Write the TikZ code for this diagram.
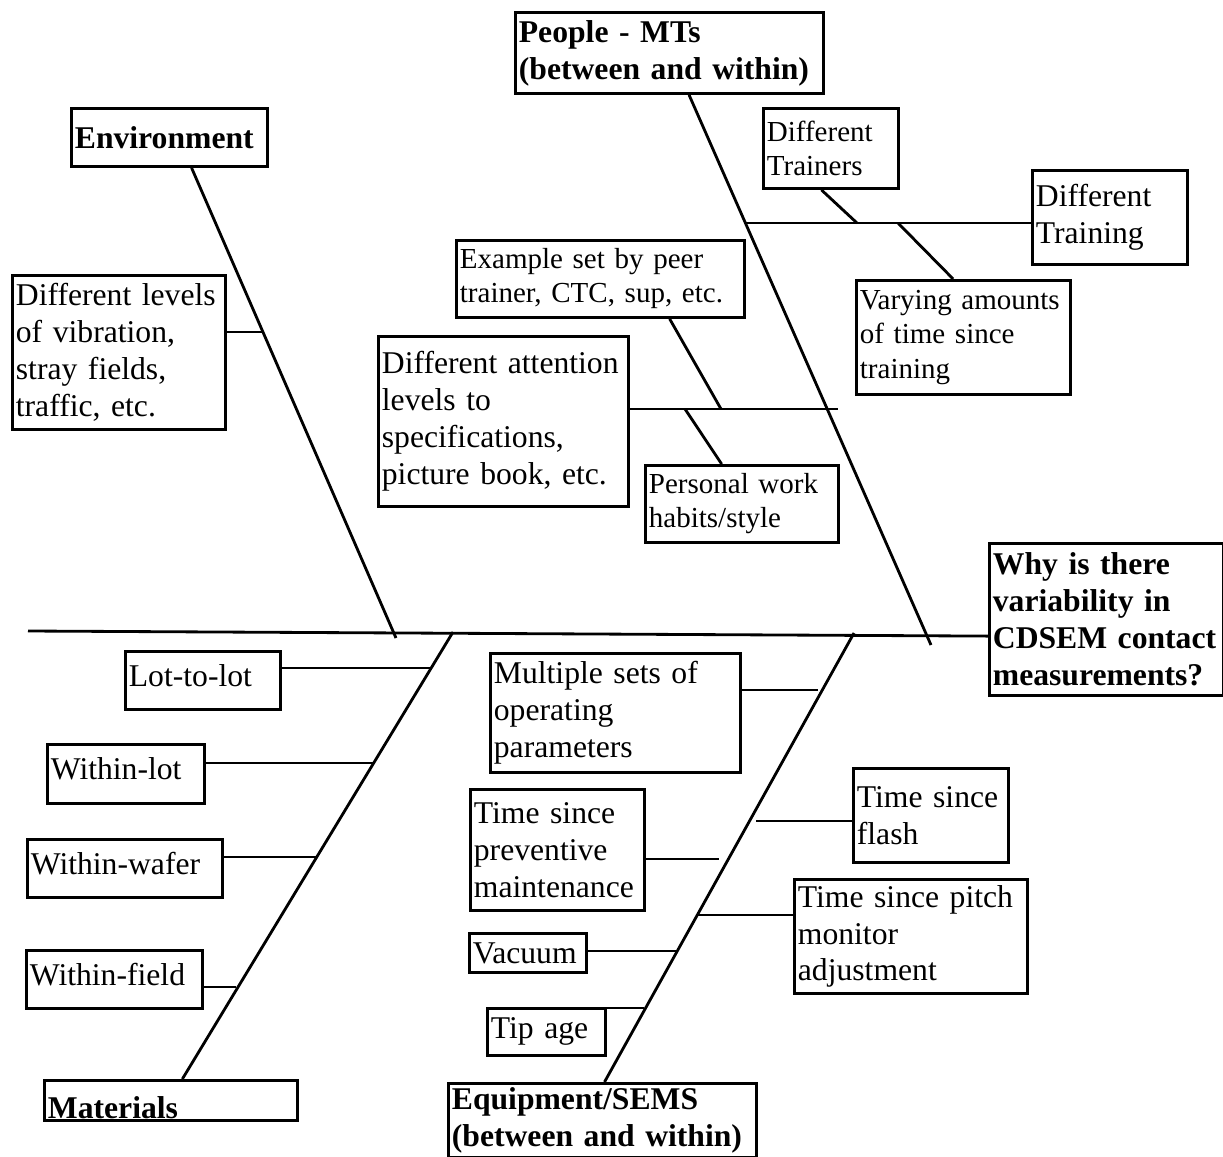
\documentclass[tikz,border=0pt]{standalone}
\usepackage{fontspec}
\setmainfont{Liberation Serif}
\newcommand{\causefont}{\fontsize{9}{10.5}\selectfont}
\newcommand{\minorfont}{\fontsize{8.25}{9.7}\selectfont}
\newcommand{\headfont}{\fontsize{9}{10.5}\selectfont\bfseries}

\begin{document}
\begin{tikzpicture}[x=0.01cm, y=-0.01cm, line width=0.8pt,
    cause/.style={draw, anchor=north west, inner xsep=0.035cm, inner ysep=0.02cm, align=left, font=\causefont},
    single/.style={cause, text depth=0.1cm},
    minor/.style={cause, font=\minorfont},
    head/.style={cause, font=\headfont}]
    \useasboundingbox (0,0) rectangle (1223,1157);

    % main categories and effect
    \node[head, text width=3.01cm, minimum height=0.81cm] (people) at (514,11) {People - MTs\\(between and within)};
    \node[head, text width=1.89cm, minimum height=0.58cm] (env) at (70,107) {Environment};
    \node[head, text width=2.46cm, text height=0.36cm, text depth=0pt] (mat) at (43,1079) {Materials};
    \node[head, text width=3.01cm, minimum height=0.74cm] (equip) at (447,1082) {Equipment/SEMS\\(between and within)};
    \node[head, text width=2.27cm, minimum height=1.52cm] (why) at (988,542) {Why is there\\variability in\\CDSEM contact\\measurements?};

    % causes
    \node[cause, text width=2.06cm, minimum height=1.54cm] (vib) at (11,274) {Different levels\\of vibration,\\stray fields,\\traffic, etc.};
    \node[minor, text width=2.81cm, minimum height=0.77cm] (example) at (455,239) {Example set by peer\\trainer, CTC, sup, etc.};
    \node[cause, text width=2.43cm, minimum height=1.70cm] (attn) at (377,335) {Different attention\\levels to\\specifications,\\picture book, etc.};
    \node[minor, text width=1.28cm, minimum height=0.80cm] (trainers) at (762,107) {Different\\Trainers};
    \node[cause, text width=1.48cm, minimum height=0.94cm] (training) at (1031,169) {Different\\Training};
    \node[minor, text width=2.07cm, minimum height=1.14cm] (varying) at (855,279) {Varying amounts\\of time since\\training};
    \node[minor, text width=1.86cm, minimum height=0.77cm] (personal) at (644,464) {Personal work\\habits/style};

    \node[single, text width=1.48cm, minimum height=0.58cm] (lot) at (124,650) {Lot-to-lot};
    \node[single, text width=1.50cm, minimum height=0.59cm] (wlot) at (46,743) {Within-lot};
    \node[single, text width=1.88cm, minimum height=0.58cm] (wafer) at (26,838) {Within-wafer};
    \node[single, text width=1.69cm, minimum height=0.58cm] (field) at (25,949) {Within-field};

    \node[cause, text width=2.43cm, minimum height=1.19cm] (multi) at (489,652) {Multiple sets of\\operating\\parameters};
    \node[cause, text width=1.67cm, minimum height=1.21cm] (prev) at (469,788) {Time since\\preventive\\maintenance};
    \node[cause, text width=1.10cm, minimum height=0.39cm] (vac) at (468,932) {Vacuum};
    \node[cause, text width=1.11cm, minimum height=0.47cm] (tip) at (486,1007) {Tip age};
    \node[cause, text width=1.48cm, minimum height=0.94cm] (flash) at (852,767) {Time since\\flash};
    \node[cause, text width=2.26cm, minimum height=1.14cm] (pitch) at (793,878) {Time since pitch\\monitor\\adjustment};

    % spine
    \coordinate (tail) at (28,631);
    \draw (tail) -- (why.188);

    % bones
    \coordinate (envHead) at (396,638);
    \coordinate (peopleHead) at (931,645);
    \coordinate (matHead) at (453,632);
    \coordinate (eqHead) at (854,633);
    \draw (env.-54) -- (envHead);
    \draw (people.-65) -- (peopleHead);
    \draw (matHead) -- (mat.62);
    \draw (eqHead) -- (equip.87);

    % environment
    \coordinate (vibJ) at (262,332);
    \draw (vib.east |- vibJ) -- (vibJ);

    % people
    \coordinate (trJ) at (744,223);
    \coordinate (trA) at (857,223);
    \coordinate (trB) at (898,223);
    \draw (trJ) -- (training.west |- trJ);
    \draw (trainers.-103) -- (trA);
    \draw (trB) -- (varying.100);
    \coordinate (atJ) at (838,409);
    \coordinate (atA) at (721,409);
    \coordinate (atB) at (685,409);
    \draw (attn.east |- atJ) -- (atJ);
    \draw (example.-30) -- (atA);
    \draw (atB) -- (personal.117);

    % materials
    \coordinate (lotJ) at (431,668);
    \coordinate (wlotJ) at (373,763);
    \coordinate (waferJ) at (316,857);
    \coordinate (fieldJ) at (236,987);
    \draw (lot.east |- lotJ) -- (lotJ);
    \draw (wlot.east |- wlotJ) -- (wlotJ);
    \draw (wafer.east |- waferJ) -- (waferJ);
    \draw (field.east |- fieldJ) -- (fieldJ);

    % equipment
    \coordinate (multiJ) at (818,690);
    \coordinate (flashJ) at (756,821);
    \coordinate (prevJ) at (719,859);
    \coordinate (pitchJ) at (697,915);
    \coordinate (vacJ) at (676,951);
    \coordinate (tipJ) at (644,1008);
    \draw (multi.east |- multiJ) -- (multiJ);
    \draw (flashJ) -- (flash.west |- flashJ);
    \draw (prev.east |- prevJ) -- (prevJ);
    \draw (pitchJ) -- (pitch.west |- pitchJ);
    \draw (vac.east |- vacJ) -- (vacJ);
    \draw (tip.east |- tipJ) -- (tipJ);
\end{tikzpicture}
\end{document}
